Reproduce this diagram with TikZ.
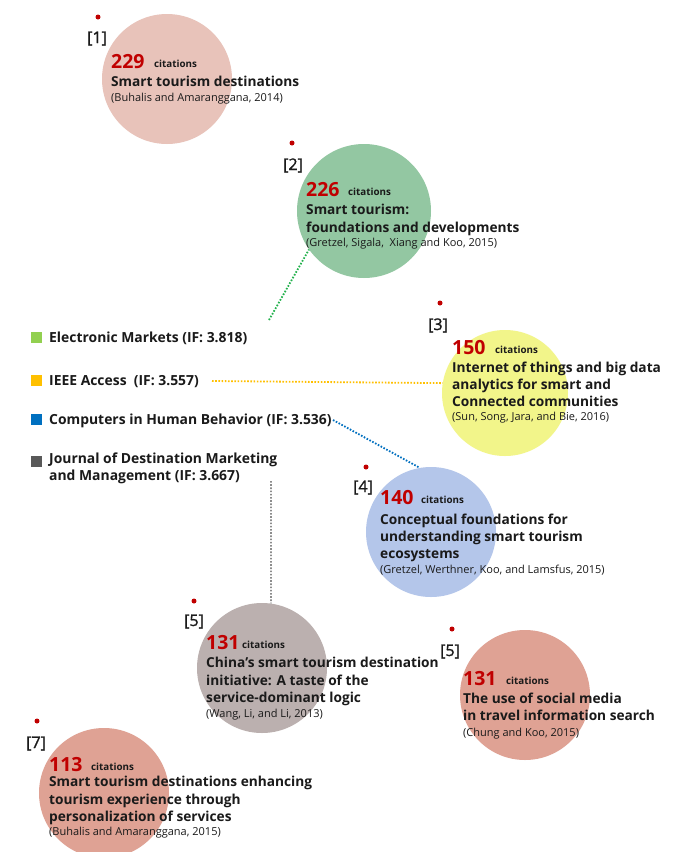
\documentclass[tikz,border=0pt]{standalone}
\usepackage{fontspec}
\setmainfont{Open Sans}
\newfontfamily\tagfont[FakeBold=1.2]{Open Sans}
\definecolor{cred}{HTML}{C00000}
\definecolor{txt}{HTML}{1A1A1A}
\definecolor{cA}{HTML}{E8C3BA}
\definecolor{cB}{HTML}{93C7A2}
\definecolor{cC}{HTML}{F2F58A}
\definecolor{cD}{HTML}{B4C6EA}
\definecolor{cE}{HTML}{BBB0AF}
\definecolor{cF}{HTML}{DFA294}
\definecolor{lgreen}{HTML}{92D050}
\definecolor{lorange}{HTML}{FFC000}
\definecolor{lblue}{HTML}{0070C0}
\definecolor{lgray}{HTML}{595959}
\definecolor{dgreen}{HTML}{22B14C}
\definecolor{dgray}{HTML}{8C8C8C}
\begin{document}
\begin{tikzpicture}[x=1pt,y=-1pt,
  bubble/.style={circle,inner sep=0pt,minimum size=130pt,draw=none},
  num/.style={anchor=base west,inner sep=0pt,text=cred,font=\fontsize{19.5}{19}\selectfont\bfseries},
  cits/.style={anchor=base west,inner sep=0pt,text=txt,font=\fontsize{9.8}{10}\selectfont\bfseries},
  ttl/.style={anchor=base west,inner sep=0pt,text=txt,font=\fontsize{13.7}{14}\selectfont\bfseries},
  refr/.style={anchor=base west,inner sep=0pt,text=txt,font=\fontsize{11}{11}\selectfont},
  tag/.style={anchor=base west,inner sep=0pt,text=txt,font=\fontsize{16}{16}\tagfont},
  rdot/.style={circle,fill=cred,inner sep=0pt,minimum size=5pt},
  legsq/.style={inner sep=0pt,minimum size=11pt},
  legtxt/.style={anchor=base west,inner sep=0pt,text=txt,font=\fontsize{13.9}{14}\selectfont\bfseries},
  link/.style={line width=1.8pt,dash pattern=on 1.6pt off 1.6pt}]
\useasboundingbox (0,0) rectangle (680,852);
\fill[white] (0,0) rectangle (680,852);

% bubbles
\node[bubble,fill=cA] (c1) at (167,79) {};
\node[bubble,fill=cB,minimum size=134pt] (c2) at (364,211) {};
\node[bubble,fill=cC,minimum size=126pt] (c3) at (505,393) {};
\node[bubble,fill=cD] (c4) at (431,532) {};
\node[bubble,fill=cE] (c5) at (262,668) {};
\node[bubble,fill=cF] (c6) at (525,695) {};
\node[bubble,fill=cF] (c7) at (104,793) {};

% connectors
\coordinate (g0) at (269,320);
\coordinate (o0) at (212,381);
\coordinate (b0) at (333,420);
\coordinate (k0) at (271,481);
\draw[link,draw=dgreen] (g0) -- (c2.215);
\draw[link,draw=lorange] (o0) -- (c3.171);
\draw[link,draw=lblue] (b0) -- (c4.100);
\draw[link,draw=dgray] (k0) -- (c5.82);

% legend
\node[legsq,fill=lgreen] (s1) at (36,337) {};
\node[legsq,fill=lorange] (s2) at (36,380) {};
\node[legsq,fill=lblue] (s3) at (36,419) {};
\node[legsq,fill=lgray] (s4) at (36,461) {};
\node[legtxt] (l1) at (49,342) {Electronic Markets (IF: 3.818)};
\node[legtxt] (l2) at (49,385) {IEEE Access\ \ (IF: 3.557)};
\node[legtxt] (l3) at (49,424) {Computers in Human Behavior (IF: 3.536)};
\node[legtxt] (l4a) at (49,463) {Journal of Destination Marketing};
\node[legtxt] (l4b) at (49,480) {and Management (IF: 3.667)};

% [1]
\node[rdot] (d1) at (98,17) {};
\node[tag] (t1) at (87,43) {[1]};
\node[num] (n1) at (111,68) {229};
\node[cits] (x1) at (154,67) {citations};
\node[ttl] (a1) at (111,86) {Smart tourism destinations};
\node[refr] (r1) at (111,101) {(Buhalis and Amaranggana, 2014)};

% [2]
\node[rdot] (d2) at (292,143) {};
\node[tag] (t2) at (283,170) {[2]};
\node[num] (n2) at (306,196) {226};
\node[cits] (x2) at (348,195) {citations};
\node[ttl] (a2) at (306,214) {Smart tourism:};
\node[ttl] (b2) at (306,232) {foundations and developments};
\node[refr] (r2) at (306,246) {(Gretzel, Sigala,\ \ Xiang and Koo, 2015)};

% [3]
\node[rdot] (d3) at (440,303) {};
\node[tag] (t3) at (428,330) {[3]};
\node[num] (n3) at (452,354) {150};
\node[cits] (x3) at (495,353) {citations};
\node[ttl] (a3) at (452,372) {Internet of things and big data};
\node[ttl] (b3) at (452,389) {analytics for smart and};
\node[ttl] (e3) at (452,406) {Connected communities};
\node[refr] (r3) at (452,420) {(Sun, Song, Jara, and Bie, 2016)};

% [4]
\node[rdot] (d4) at (366,467) {};
\node[tag] (t4) at (353,492) {[4]};
\node[num] (n4) at (380,504) {140};
\node[cits] (x4) at (421,503) {citations};
\node[ttl] (a4) at (380,524) {Conceptual foundations for};
\node[ttl] (b4) at (380,541) {understanding smart tourism};
\node[ttl] (e4) at (380,558) {ecosystems};
\node[refr] (r4) at (380,573) {(Gretzel, Werthner, Koo, and Lamsfus, 2015)};

% [5] left
\node[rdot] (d5) at (194,601) {};
\node[tag] (t5) at (184,626) {[5]};
\node[num] (n5) at (206,649) {131};
\node[cits] (x5) at (242,648) {citations};
\node[ttl] (a5) at (206,667) {China's smart tourism destination};
\node[ttl] (b5) at (206,685) {initiative: A taste of the};
\node[ttl] (e5) at (206,702) {service-dominant logic};
\node[refr] (r5) at (206,717) {(Wang, Li, and Li, 2013)};

% [5] right
\node[rdot] (d6) at (452,629) {};
\node[tag] (t6) at (440,656) {[5]};
\node[num] (n6) at (463,685) {131};
\node[cits] (x6) at (506,684) {citations};
\node[ttl] (a6) at (463,703) {The use of social media};
\node[ttl] (b6) at (463,720) {in travel information search};
\node[refr] (r6) at (463,736) {(Chung and Koo, 2015)};

% [7]
\node[rdot] (d7) at (37,721) {};
\node[tag] (t7) at (26,748) {[7]};
\node[num] (n7) at (49,771) {113};
\node[cits] (x7) at (91,770) {citations};
\node[ttl] (a7) at (49,786) {Smart tourism destinations enhancing};
\node[ttl] (b7) at (49,804) {tourism experience through};
\node[ttl] (e7) at (49,821) {personalization of services};
\node[refr] (r7) at (49,835) {(Buhalis and Amaranggana, 2015)};
\end{tikzpicture}
\end{document}
